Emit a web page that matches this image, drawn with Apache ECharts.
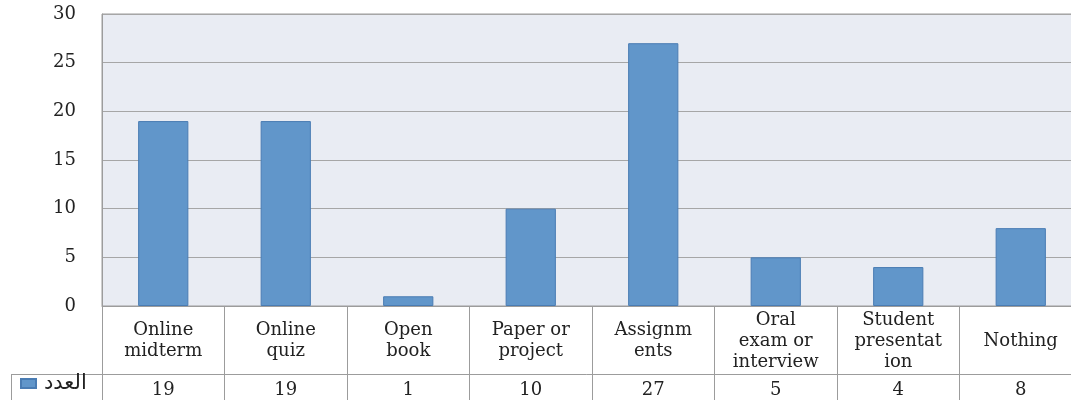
<!DOCTYPE html>
<html>
<head>
    <meta charset="UTF-8">
    <title>Assessment methods</title>
    <script src="https://cdn.jsdelivr.net/npm/echarts@6/dist/echarts.min.js"></script>
    <style>
        html, body { margin: 0; padding: 0; background: #fff; }
        #chart { width: 1071px; height: 400px; }
    </style>
</head>
<body>
<div id="chart"></div>
<script>
    // data
    var categories = ['Online\nmidterm', 'Online\nquiz', 'Open\nbook', 'Paper or\nproject',
        'Assignm\nents', 'Oral\nexam or\ninterview', 'Student\npresentat\nion', 'Nothing'];
    var counts = [19, 19, 1, 10, 27, 5, 4, 8];
    var seriesName = 'العدد';
    var yTicks = { min: 0, max: 30, interval: 5 };

    var lineColor = '#9c9c9c';
    var textColor = '#222';
    var serif = '"DejaVu Serif", "Liberation Serif", serif';

    var myChart = echarts.init(document.getElementById('chart'));

    var option = {
        animation: false,
        grid: {
            left: 102, top: 14, width: 980, height: 292,
            outerBoundsMode: 'none',
            show: true,
            backgroundColor: '#e9ecf3',
            borderColor: lineColor,
            borderWidth: 1
        },
        legend: {
            data: [seriesName],
            left: 20, top: 373,
            padding: 0,
            icon: 'rect',
            itemWidth: 15, itemHeight: 9,
            itemGap: 6,
            textStyle: { fontFamily: '"DejaVu Sans", sans-serif', fontSize: 21, padding: [0, 0, 0, 3], color: textColor }
        },
        xAxis: [
            {
                type: 'category',
                data: categories,
                position: 'bottom',
                axisLine: { show: true, lineStyle: { color: lineColor } },
                axisTick: { show: true, length: 94, interval: 0, lineStyle: { color: lineColor } },
                axisLabel: {
                    interval: 0, margin: 35, verticalAlign: 'middle',
                    fontFamily: serif, fontSize: 18, lineHeight: 21, color: textColor
                }
            },
            {
                type: 'category',
                data: counts.map(String),
                position: 'bottom',
                offset: 68,
                axisLine: { show: true, lineStyle: { color: lineColor } },
                axisTick: { show: false },
                axisLabel: {
                    interval: 0, margin: 16, verticalAlign: 'middle',
                    fontFamily: serif, fontSize: 18, color: textColor
                }
            }
        ],
        yAxis: {
            type: 'value',
            min: yTicks.min, max: yTicks.max, interval: yTicks.interval,
            axisLine: { show: true, lineStyle: { color: lineColor } },
            axisTick: { show: false },
            splitLine: { lineStyle: { color: '#a6a6a6', width: 1 } },
            axisLabel: {
                margin: 26,
                fontFamily: serif, fontSize: 18, color: textColor
            }
        },
        graphic: [
            // legend cell borders of the data table
            { type: 'line', shape: { x1: 11, y1: 374.5, x2: 102, y2: 374.5 }, style: { stroke: lineColor, lineWidth: 1 } },
            { type: 'line', shape: { x1: 11.5, y1: 374, x2: 11.5, y2: 400 }, style: { stroke: lineColor, lineWidth: 1 } }
        ],
        series: [
            {
                name: seriesName,
                type: 'bar',
                xAxisIndex: 0,
                data: counts,
                barWidth: '41%',
                itemStyle: { color: '#6196ca', borderColor: '#4a7cb3', borderWidth: 1 }
            }
        ]
    };
    myChart.setOption(option);
</script>
</body>
</html>
